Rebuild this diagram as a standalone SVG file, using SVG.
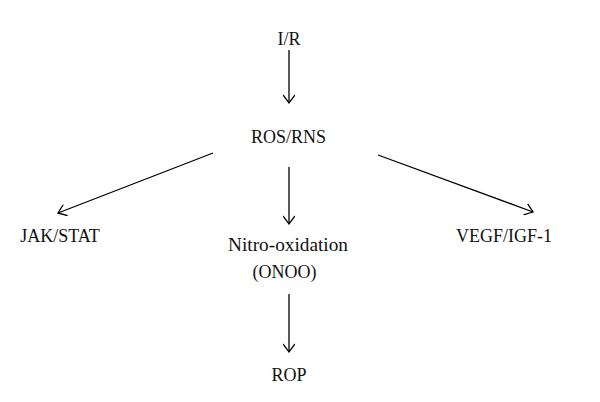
<svg xmlns="http://www.w3.org/2000/svg" width="600" height="402" viewBox="0 0 600 402">
<defs>
<marker id="ah" viewBox="-10 -6 12 12" markerWidth="12" markerHeight="12" refX="0" refY="0" orient="auto" markerUnits="userSpaceOnUse">
<path d="M-8,-6 L0,0 L-8,6" fill="none" stroke="#000" stroke-width="1.3"/>
</marker>
<style>
text{font-family:"Liberation Serif","DejaVu Serif",serif;font-size:18px;fill:#111;text-anchor:middle}
.c line{stroke:#000;stroke-width:1.3;marker-end:url(#ah)}
</style>
</defs>
<rect width="600" height="402" fill="#fff"/>
<g id="n-ir"><text x="289" y="45">I/R</text></g>
<g id="n-ros"><text x="288.5" y="143">ROS/RNS</text></g>
<g id="n-jak"><text x="60" y="242">JAK/STAT</text></g>
<g id="n-nitro"><text x="288" y="251" textLength="120" lengthAdjust="spacingAndGlyphs">Nitro-oxidation</text><text x="284.5" y="278">(ONOO)</text></g>
<g id="n-vegf"><text x="504" y="242">VEGF/IGF-1</text></g>
<g id="n-rop"><text x="289" y="381">ROP</text></g>
<g class="c" id="connectors">
<line x1="289" y1="50" x2="289" y2="103"/>
<line x1="289" y1="167" x2="289" y2="224"/>
<line x1="289" y1="294" x2="289" y2="352"/>
<line x1="213" y1="153" x2="58" y2="213"/>
<line x1="378" y1="155" x2="533" y2="212"/>
</g>
</svg>
